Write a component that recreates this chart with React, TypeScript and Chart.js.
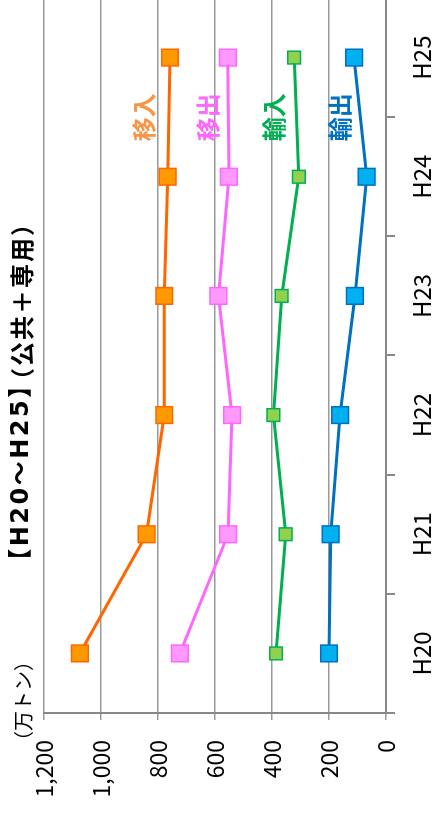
import React, { useEffect, useRef } from 'react';
import { Chart, registerables } from 'chart.js';

Chart.register(...registerables);

const categories = ['H20', 'H21', 'H22', 'H23', 'H24', 'H25'];
const inboundValues = [1074, 840, 778, 778, 766, 758];   // 移入
const outboundValues = [723, 554, 540, 588, 551, 555];   // 移出
const importValues = [386, 352, 395, 366, 306, 322];     // 輸入
const exportValues = [200, 194, 161, 109, 68, 112];      // 輸出
const seriesNames = ['移入', '移出', '輸入', '輸出'];
const valueTicks = [0, 200, 400, 600, 800, 1000, 1200];
const titlePeriod = '【H20～H25】';
const titleScope = '（公共＋専用）';
const unitText = '（万トン）';

const FONT = '"Noto Sans CJK JP", "Noto Sans", sans-serif';

const lineColors = ['#FF6600', '#FF66FF', '#00B050', '#0070C0'];
const fillColors = ['#FF9900', '#FF99FF', '#92D050', '#00B0F0'];
const labelColors = ['#F79646', '#FF66FF', '#00B050', '#0070C0'];
const pointSizes = [11.8, 11.8, 9, 11.8];
const labelValueAnchors = [849, 625, 392, 161];

const textPlugin = {
  id: 'chartTexts',
  afterDraw(chart: any) {
    const ctx = chart.ctx;
    const xs = chart.scales.x;
    const ys = chart.scales.y;
    ctx.save();
    ctx.textAlign = 'center';
    ctx.textBaseline = 'middle';
    ctx.fillStyle = '#000';
    ctx.font = `bold 24px "DejaVu Sans", ${FONT}`;
    try { (ctx as any).letterSpacing = '2.5px'; } catch (e) {}
    ctx.fillText(titlePeriod, 342, 22);
    try { (ctx as any).letterSpacing = '2px'; } catch (e) {}
    ctx.font = `bold 24px ${FONT}`;
    ctx.fillText(titleScope, 513, 22);
    try { (ctx as any).letterSpacing = '0px'; } catch (e) {}
    ctx.font = `20px ${FONT}`;
    ctx.fillText(unitText, 113, 23);
    const lx = (xs.getPixelForValue(4) + xs.getPixelForValue(5)) / 2;
    ctx.font = `bold 24px ${FONT}`;
    seriesNames.forEach((name, i) => {
      ctx.fillStyle = labelColors[i];
      ctx.fillText(name, lx, ys.getPixelForValue(labelValueAnchors[i]));
    });
    ctx.restore();
  },
};

export default function App() {
  const ref = useRef<HTMLCanvasElement | null>(null);

  useEffect(() => {
    document.body.style.margin = '0';
    document.body.style.overflow = 'hidden';
    const canvas = ref.current;
    if (!canvas) return;
    const allValues = [inboundValues, outboundValues, importValues, exportValues];
    const chart = new Chart(canvas, {
      type: 'line',
      data: {
        labels: categories,
        datasets: allValues.map((vals, i) => ({
          label: seriesNames[i],
          data: vals,
          borderColor: lineColors[i],
          backgroundColor: fillColors[i],
          borderWidth: 3,
          pointStyle: 'rect',
          pointRadius: pointSizes[i],
          pointHoverRadius: pointSizes[i],
          pointBackgroundColor: fillColors[i],
          pointBorderColor: lineColors[i],
          pointBorderWidth: 1.5,
          tension: 0,
          fill: false,
        })),
      },
      options: {
        animation: false,
        responsive: false,
        devicePixelRatio: 1,
        layout: { autoPadding: false, padding: { top: 44, left: 0, right: 0, bottom: 0 } },
        plugins: {
          legend: { display: false },
          tooltip: { enabled: false },
          title: { display: false },
        },
        scales: {
          x: {
            type: 'category',
            offset: true,
            grid: {
              offset: true,
              drawOnChartArea: false,
              drawTicks: true,
              tickLength: 9,
              color: '#888888',
              lineWidth: 2,
            },
            border: { display: true, color: '#888888', width: 2 },
            ticks: {
              color: '#000',
              font: { family: FONT, size: 24 },
              padding: 12,
              maxRotation: 0,
              autoSkip: false,
            },
            afterFit(scale: any) {
              scale.height = 48;
            },
          },
          y: {
            min: 0,
            max: 1200,
            afterBuildTicks(scale: any) {
              scale.ticks = valueTicks.map((v) => ({ value: v }));
            },
            ticks: {
              color: '#000',
              font: { family: FONT, size: 23 },
              padding: 20,
              callback: (v: any) => Number(v).toLocaleString('en-US'),
            },
            grid: {
              color: '#999999',
              lineWidth: 1.5,
              tickLength: 7,
              drawTicks: true,
            },
            border: { display: true, color: '#888888', width: 2 },
            afterFit(scale: any) {
              scale.width = 101;
            },
          },
        },
      },
      plugins: [textPlugin],
    });
    return () => chart.destroy();
  }, []);

  return (
    <div
      style={{
        position: 'fixed',
        left: 0,
        top: 0,
        width: 434,
        height: 814,
        overflow: 'hidden',
        background: '#fff',
      }}
    >
      <div
        style={{
          position: 'absolute',
          left: 0,
          top: 0,
          width: 816,
          height: 434,
          transformOrigin: '0 0',
          transform: 'translate(0px, 814px) rotate(-90deg)',
        }}
      >
        <canvas ref={ref} width={816} height={434} style={{ display: 'block', width: 816, height: 434 }} />
      </div>
    </div>
  );
}
